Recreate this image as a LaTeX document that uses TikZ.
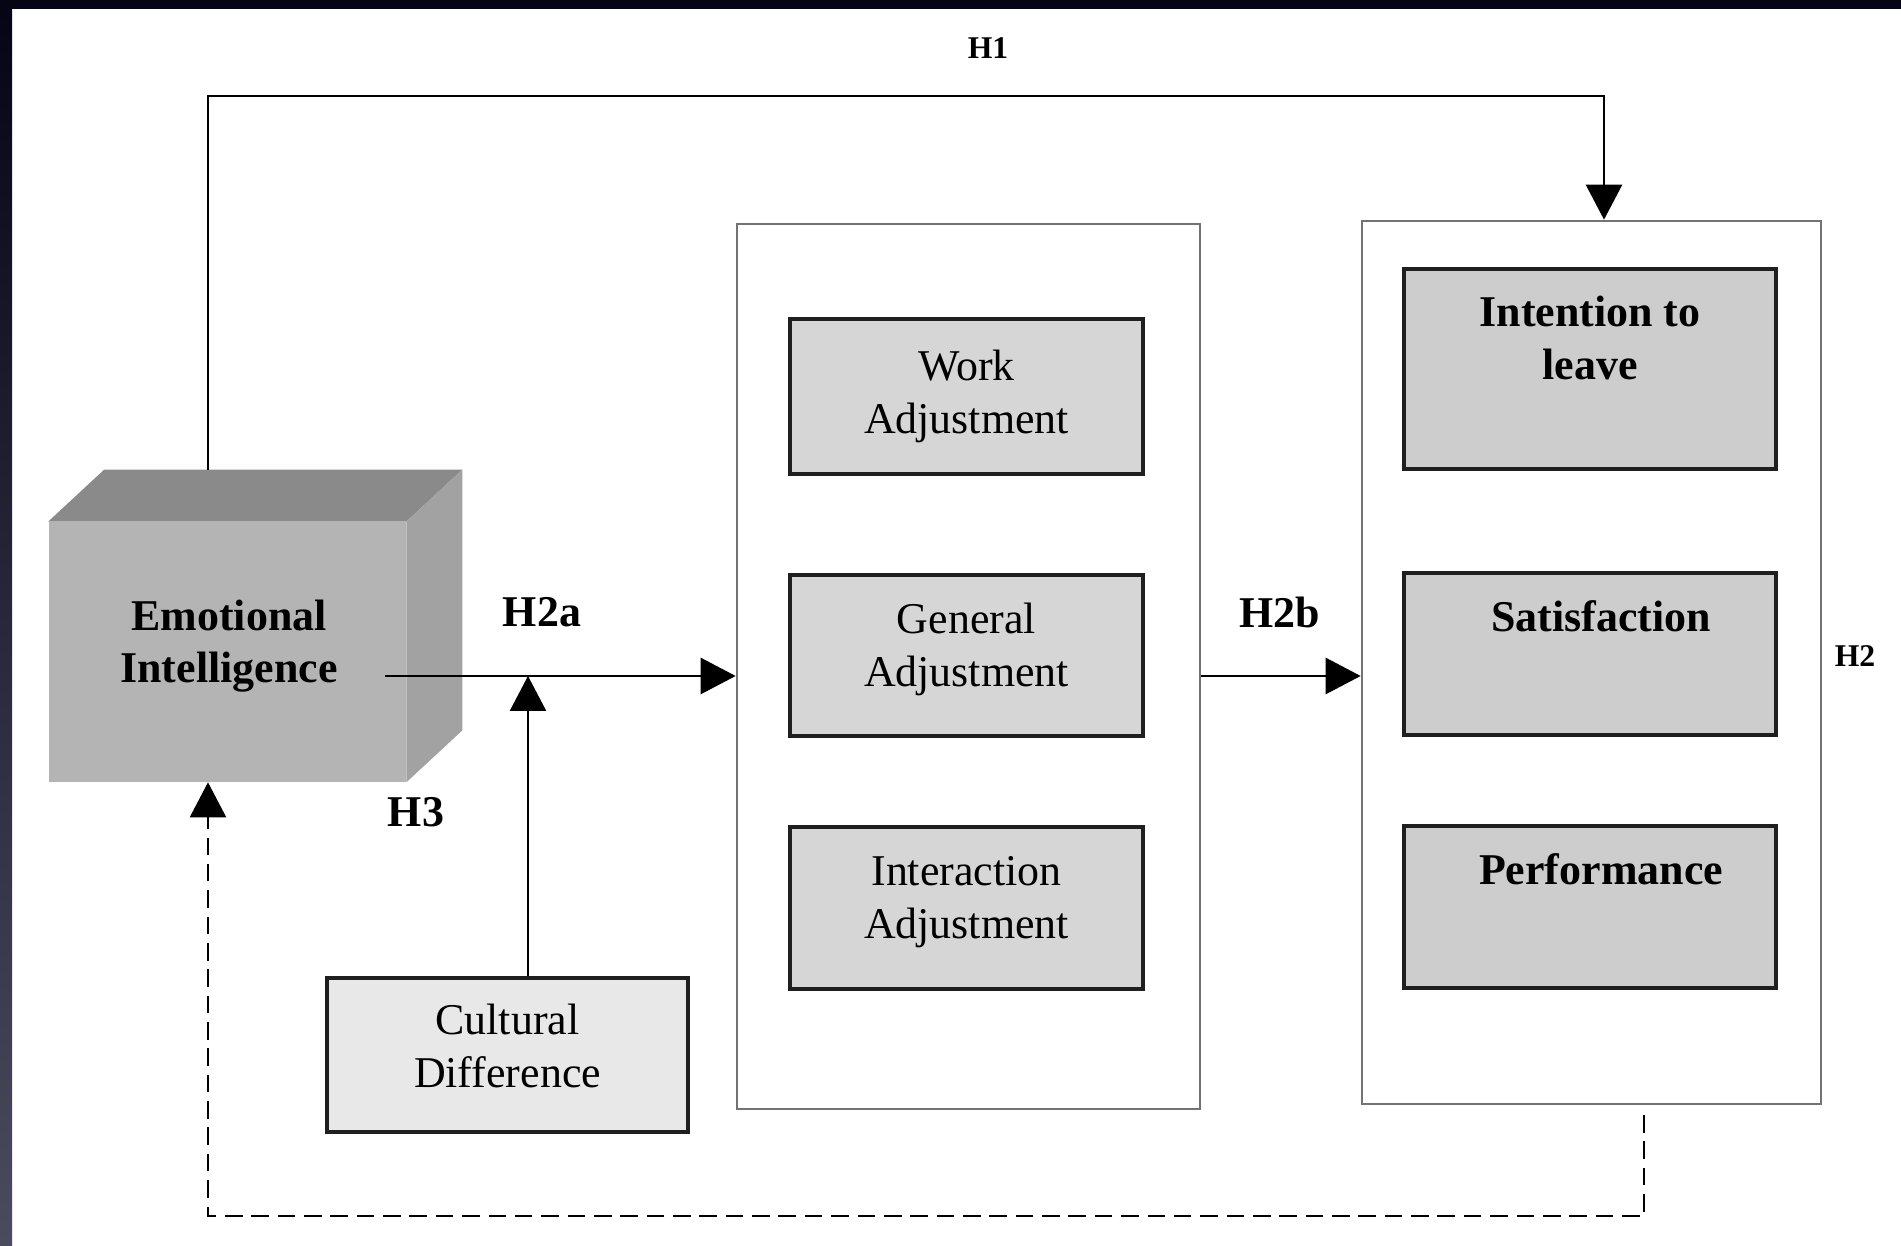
\documentclass[tikz,border=0pt]{standalone}
\usepackage{fontspec}
\setmainfont{Liberation Serif}
\usetikzlibrary{arrows.meta, positioning, calc}
\definecolor{cubefront}{RGB}{180,180,180}
\definecolor{cubetop}{RGB}{138,138,138}
\definecolor{cubeside}{RGB}{162,162,162}
\definecolor{adjgray}{RGB}{214,214,214}
\definecolor{outgray}{RGB}{205,205,205}
\definecolor{cultgray}{RGB}{232,232,232}
\definecolor{framenavy}{RGB}{5,5,21}
\definecolor{frameslate}{RGB}{75,75,95}

\begin{document}
\begin{tikzpicture}[
  inner/.style={draw=black!88, line width=2.4pt, minimum width=7.06cm, align=center, font=\fontsize{25}{30}\selectfont},
  group/.style={draw=black!55, line width=1.5pt, fill=white},
  hyp/.style={font=\fontsize{25}{30}\selectfont\bfseries},
  hypsmall/.style={font=\fontsize{18}{22}\selectfont\bfseries},
  link/.style={line width=1.5pt, -{Triangle[length=0.7cm, width=0.72cm]}}
]
  \useasboundingbox (0,0) rectangle (38.02,24.92);
  \fill[framenavy] (0,24.74) rectangle (38.02,24.92);
  \shade[top color=framenavy, bottom color=frameslate] (0,0) rectangle (0.24,24.74);

  \node[group, minimum width=9.26cm, minimum height=17.7cm] (adj) at (19.37,11.59) {};
  \node[group, minimum width=9.18cm, minimum height=17.66cm] (outc) at (31.83,11.67) {};

  \node[inner, fill=adjgray, minimum height=3.1cm] (work) at (19.33,16.99) {Work\\Adjustment};
  \node[inner, fill=adjgray, minimum height=3.22cm, text depth=0.43cm] (general) at (19.33,11.81) {General\\Adjustment};
  \node[inner, fill=adjgray, minimum height=3.24cm, text depth=0.43cm] (interact) at (19.33,6.76) {Interaction\\Adjustment};

  \node[inner, fill=outgray, minimum width=7.44cm, minimum height=4cm] (leave) at (31.8,17.54) {};
  \node[inner, fill=outgray, minimum width=7.44cm, minimum height=3.24cm] (satis) at (31.8,11.84) {};
  \node[inner, fill=outgray, minimum width=7.44cm, minimum height=3.24cm] (perf) at (31.8,6.78) {};
  \node[hyp, align=center, below=0.46cm of leave.north] (leavetxt) {Intention to\\leave};
  \node[hyp, below=0.46cm of satis.north, xshift=0.22cm] (satistxt) {Satisfaction};
  \node[hyp, below=0.46cm of perf.north, xshift=0.22cm] (perftxt) {Performance};

  \node[inner, fill=cultgray, minimum width=7.22cm, minimum height=3.08cm, text depth=0.38cm] (cult) at (10.15,3.82) {Cultural\\Difference};

  \node[fill=cubefront, minimum width=7.15cm, minimum height=5.2cm] (ei) at (4.545,11.88) {};
  \node[hyp, align=center] (eitxt) at (4.58,12.0) {Emotional\\Intelligence};
  \fill[cubetop] (ei.north west) -- ++(1.12,1.04) -- ($(ei.north east)+(1.12,1.04)$) -- (ei.north east) -- cycle;
  \fill[cubeside] (ei.north east) -- ++(1.12,1.04) -- ($(ei.south east)+(1.12,1.04)$) -- (ei.south east) -- cycle;

  \coordinate (h1start) at (4.16,15.52);
  \coordinate (h1turn) at (32.08,23.0);
  \coordinate (eiout) at (7.7,11.4);
  \coordinate (junc) at (10.56,11.4);
  \coordinate (fbtop) at (32.88,2.62);
  \coordinate (fbcorner) at (32.88,0.6);

  \draw[link] (h1start) |- (h1turn) -- (h1turn |- outc.north);
  \draw[link] (eiout) -- (eiout -| adj.west);
  \draw[link] (cult.north -| junc) -- (junc);
  \draw[link] (adj.east |- eiout) -- (outc.west |- eiout);
  \draw[link, line width=1.4pt, dash pattern=on 10pt off 5pt] (fbtop) -- (fbcorner) -| (h1start |- ei.south);

  \node[hypsmall] (h1) at (19.76,23.96) {H1};
  \node[hyp] (h2a) at (10.84,12.68) {H2a};
  \node[hyp] (h2b) at (25.6,12.68) {H2b};
  \node[hyp] (h3) at (8.32,8.68) {H3};
  \node[hypsmall] (h2) at (37.1,11.8) {H2};
\end{tikzpicture}
\end{document}
